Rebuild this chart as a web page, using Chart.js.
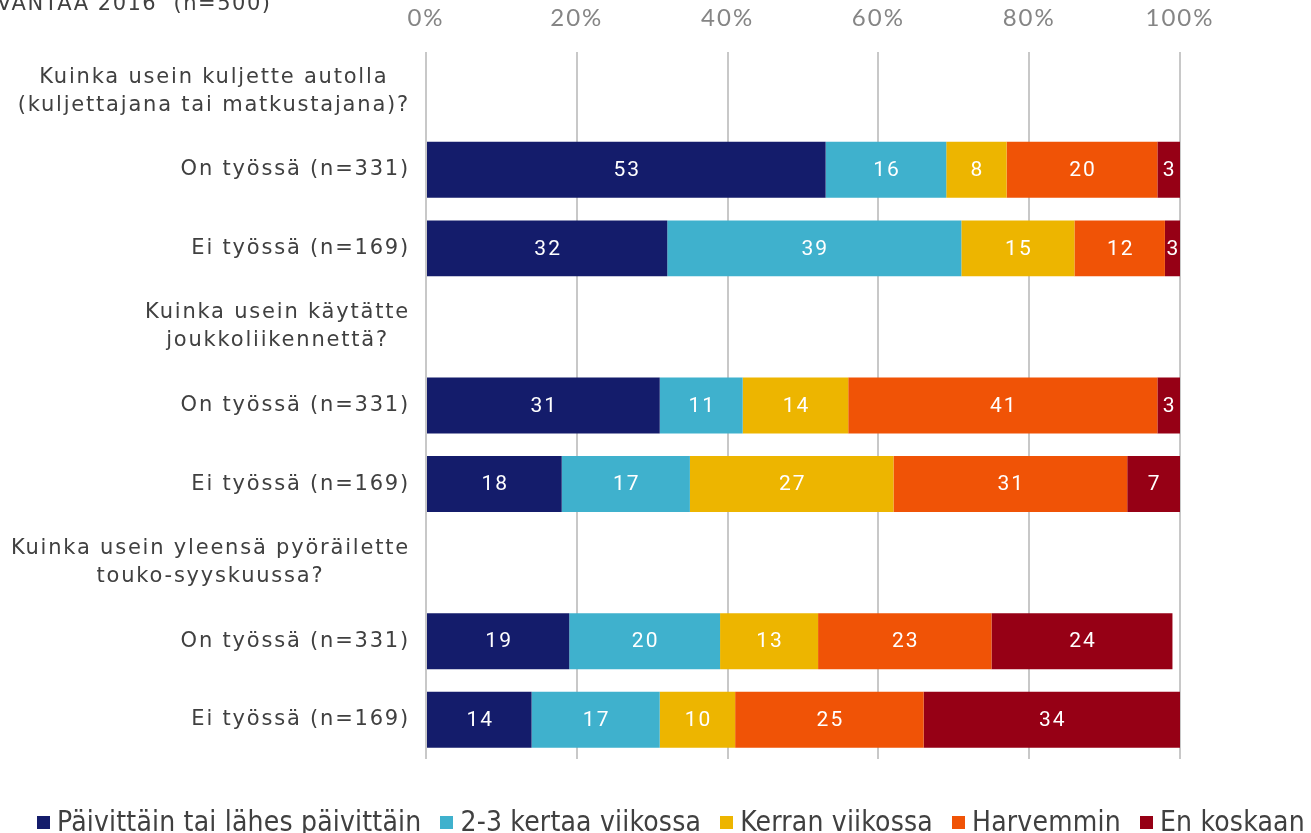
<!DOCTYPE html>
<html>
<head>
<meta charset="utf-8">
<script src="https://cdn.jsdelivr.net/npm/chart.js@4.4.1/dist/chart.umd.min.js"></script>
<style>
html,body{margin:0;padding:0;background:#fff;overflow:hidden}
#wrap{position:relative;width:1311px;height:833px}
#legend{position:absolute;left:37px;top:806px;line-height:32px;font-size:28px;font-family:"DejaVu Sans Condensed","DejaVu Sans",sans-serif;font-stretch:condensed;letter-spacing:0.2px;color:#404040;white-space:nowrap}
#legend .item{margin-right:19px}
#legend .box{display:inline-block;width:13px;height:13px;margin-right:7px;vertical-align:2px}
</style>
</head>
<body>
<div id="wrap">
  <canvas id="chart" width="1311" height="833"></canvas>
  <div id="legend"></div>
</div>
<script>
// rows: question headers have no bars
const categories = [
  ['Kuinka usein kuljette autolla', '(kuljettajana tai matkustajana)?'],
  'On työssä (n=331)', 'Ei työssä (n=169)',
  ['Kuinka usein käytätte', 'joukkoliikennettä?'],
  'On työssä (n=331)', 'Ei työssä (n=169)',
  ['Kuinka usein yleensä pyöräilette', 'touko-syyskuussa?'],
  'On työssä (n=331)', 'Ei työssä (n=169)'
];
const seriesNames = ['Päivittäin tai lähes päivittäin', '2-3 kertaa viikossa', 'Kerran viikossa', 'Harvemmin', 'En koskaan'];
const seriesColors = ['#141c6b', '#3fb1cd', '#edb500', '#f05306', '#960015'];
const daily    = [null, 53, 32, null, 31, 18, null, 19, 14];
const twoThree = [null, 16, 39, null, 11, 17, null, 20, 17];
const weekly   = [null,  8, 15, null, 14, 27, null, 13, 10];
const rarely   = [null, 20, 12, null, 41, 31, null, 23, 25];
const never    = [null,  3,  3, null,  3,  7, null, 24, 34];
const tickValues = [0, 20, 40, 60, 80, 100];
const titleText = 'VANTAA 2016  (n=500)';

const seriesData = [daily, twoThree, weekly, rarely, never];

// title at the top left corner
const titlePlugin = {
  id: 'titleText',
  afterDraw(chart){
    const ctx = chart.ctx;
    ctx.save();
    ctx.font = '21px "DejaVu Sans"';
    ctx.letterSpacing = '1.5px';
    ctx.fillStyle = '#404040';
    ctx.textAlign = 'left';
    ctx.textBaseline = 'alphabetic';
    ctx.fillText(titleText, -3, 10);
    ctx.restore();
  }
};

// row labels, each block right aligned and its lines centred
const rowLabels = {
  id: 'rowLabels',
  afterDraw(chart){
    const ctx = chart.ctx, y = chart.scales.y;
    ctx.save();
    ctx.font = '21px "DejaVu Sans"';
    ctx.letterSpacing = '1.8px';
    ctx.fillStyle = '#404040';
    ctx.textAlign = 'center';
    ctx.textBaseline = 'middle';
    categories.forEach((lab, i) => {
      const lines = Array.isArray(lab) ? lab : [lab];
      const yc = y.getPixelForValue(i);
      const w = Math.max(...lines.map(l => ctx.measureText(l).width));
      const cx = 410 - w / 2;
      lines.forEach((l, k) => ctx.fillText(l, cx, yc + (k - (lines.length - 1) / 2) * 28));
    });
    ctx.restore();
  }
};

// value labels in the middle of every segment
const barValues = {
  id: 'barValues',
  afterDatasetsDraw(chart){
    const ctx = chart.ctx, area = chart.chartArea;
    ctx.save();
    ctx.font = '21px Roboto';
    ctx.letterSpacing = '2px';
    ctx.fillStyle = '#ffffff';
    ctx.textAlign = 'center';
    ctx.textBaseline = 'middle';
    chart.data.datasets.forEach((ds, d) => {
      chart.getDatasetMeta(d).data.forEach((el, i) => {
        const v = ds.data[i];
        if (v == null) return;
        const right = Math.min(el.x, area.right);
        ctx.fillText(String(v), (el.base + right) / 2 + 1, el.y + 1);
      });
    });
    ctx.restore();
  }
};

const spacing = {
  id: 'spacing',
  beforeDraw(chart){ chart.ctx.letterSpacing = '2px'; }
};

new Chart(document.getElementById('chart'), {
  type: 'bar',
  data: {
    labels: categories,
    datasets: seriesNames.map((name, i) => ({
      label: name,
      data: seriesData[i],
      backgroundColor: seriesColors[i],
      borderWidth: 0,
      barPercentage: 0.712,
      categoryPercentage: 1
    }))
  },
  options: {
    indexAxis: 'y',
    responsive: false,
    animation: false,
    layout: { padding: { left: 426, right: 131, top: 6, bottom: 74 } },
    plugins: { legend: { display: false }, tooltip: { enabled: false } },
    scales: {
      x: {
        position: 'top',
        stacked: true,
        min: 0, max: 100,
        afterBuildTicks(scale){ scale.ticks = tickValues.map(v => ({ value: v })); },
        afterFit(scale){ scale.height = 46; },
        ticks: {
          padding: 19,
          color: '#858585',
          font: { family: 'Lato', size: 24 },
          callback: v => v + '%'
        },
        grid: { color: '#c8c8c8', lineWidth: 2, drawTicks: false },
        border: { display: false }
      },
      y: { stacked: true, display: false }
    }
  },
  plugins: [spacing, titlePlugin, rowLabels, barValues]
});

// legend under the chart
const legend = document.getElementById('legend');
seriesNames.forEach((name, i) => {
  const item = document.createElement('span');
  item.className = 'item';
  const box = document.createElement('span');
  box.className = 'box';
  box.style.background = seriesColors[i];
  item.appendChild(box);
  item.appendChild(document.createTextNode(name));
  legend.appendChild(item);
});
</script>
</body>
</html>
